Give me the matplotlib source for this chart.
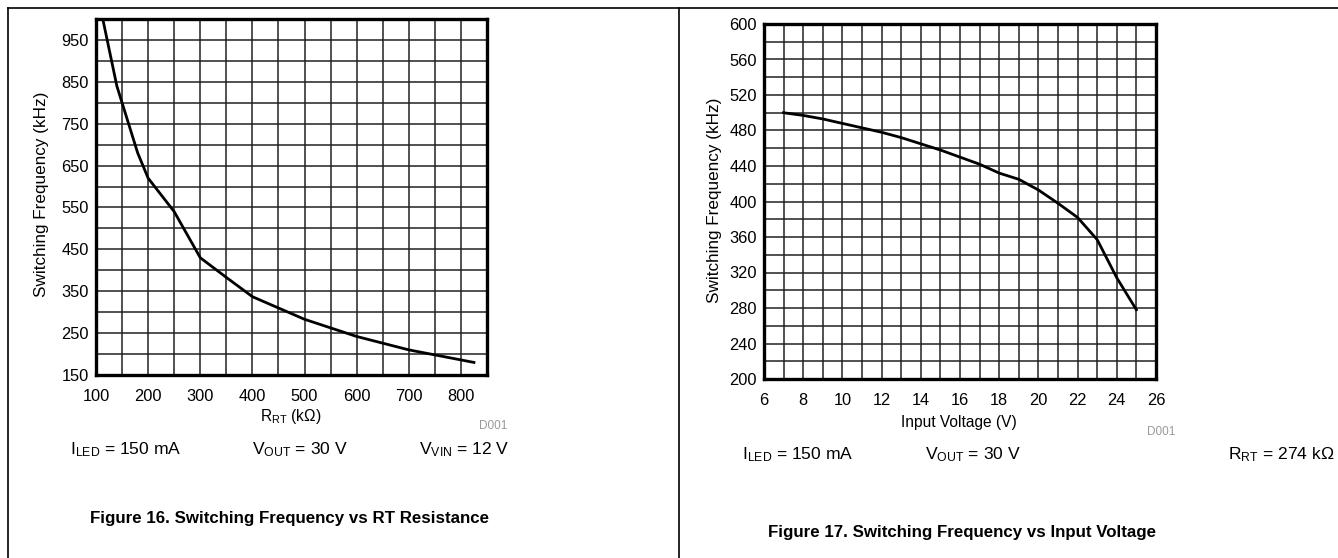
import numpy as np
import matplotlib
matplotlib.use('Agg')
import matplotlib.pyplot as plt
from matplotlib.lines import Line2D

plt.rcParams['font.family'] = ['Liberation Sans', 'DejaVu Sans']
plt.rcParams['mathtext.fontset'] = 'custom'
plt.rcParams['mathtext.rm'] = 'Liberation Sans'
plt.rcParams['mathtext.it'] = 'Liberation Sans'

# Figure 16: frequency vs RT resistance
rrt_kohm = [113, 140, 180, 200, 250, 300, 350, 400, 500, 600, 700, 750, 825]
freq_rt = [1000, 840, 680, 620, 540, 430, 383, 337, 283, 242, 210, 198, 180]
rt_ticks = [100, 200, 300, 400, 500, 600, 700, 800]
rt_yticks = [150, 250, 350, 450, 550, 650, 750, 850, 950]

# Figure 17: frequency vs input voltage
vin = [7, 8, 9, 10, 11, 12, 13, 14, 15, 16, 17, 18, 19, 20, 21, 22, 23, 24, 25]
freq_vin = [500, 497, 493, 488, 483, 478, 472, 465, 458, 450, 442, 432, 425,
            413, 398, 382, 357, 314, 278]
vin_ticks = [6, 8, 10, 12, 14, 16, 18, 20, 22, 24, 26]
vin_yticks = [200, 240, 280, 320, 360, 400, 440, 480, 520, 560, 600]

W, H = 1338, 558
fig = plt.figure(figsize=(W / 100, H / 100), dpi=100)


def px_axes(l, t, r, b):
    return fig.add_axes([l / W, 1 - b / H, (r - l) / W, (b - t) / H])


def fx(x):
    return x / W


def fy(y):
    return 1 - y / H


def style(ax, xminor, yminor):
    ax.set_xticks(xminor, minor=True)
    ax.set_yticks(yminor, minor=True)
    ax.grid(True, which='both', color='#222222', lw=1.1)
    ax.tick_params(which='both', length=0, labelsize=11.8, colors='black')
    ax.tick_params(axis='x', pad=10)
    ax.tick_params(axis='y', pad=5)
    for s in ax.spines.values():
        s.set_linewidth(2.4)
        s.set_color('black')
    ax.set_axisbelow(True)


# left panel
ax1 = px_axes(96, 19, 487, 375)
ax1.plot(rrt_kohm, freq_rt, color='black', lw=2.0)
ax1.set_xlim(100, 850)
ax1.set_ylim(150, 1000)
ax1.set_xticks(rt_ticks)
ax1.set_yticks(rt_yticks)
style(ax1, np.arange(100, 851, 50), np.arange(150, 1001, 50))

# right panel
ax2 = px_axes(764, 24, 1156, 379)
ax2.plot(vin, freq_vin, color='black', lw=2.0)
ax2.set_xlim(6, 26)
ax2.set_ylim(200, 600)
ax2.set_xticks(vin_ticks)
ax2.set_yticks(vin_yticks)
style(ax2, np.arange(6, 27, 1), np.arange(200, 601, 20))

# axis titles
fig.text(fx(291), fy(417), r'R$_{\mathrm{RT}}$ (k$\Omega$)', fontsize=11.2, ha='center', va='center')
fig.text(fx(959), fy(423), 'Input Voltage (V)', fontsize=11.2, ha='center', va='center')
fig.text(fx(42), fy(194), 'Switching Frequency (kHz)', fontsize=12.3, rotation=90,
         ha='center', va='center')
fig.text(fx(714), fy(200), 'Switching Frequency (kHz)', fontsize=12.3, rotation=90,
         ha='center', va='center')

# D001 marks
fig.text(fx(507), fy(426), 'D001', fontsize=8.5, color='#999999', ha='right', va='center')
fig.text(fx(1175), fy(432), 'D001', fontsize=8.5, color='#999999', ha='right', va='center')

# conditions
cond = 12.6
fig.text(fx(70), fy(450), r'I$_{\mathrm{LED}}$ = 150 mA', fontsize=cond, va='center')
fig.text(fx(252), fy(450), r'V$_{\mathrm{OUT}}$ = 30 V', fontsize=cond, va='center')
fig.text(fx(510), fy(450), r'V$_{\mathrm{VIN}}$ = 12 V', fontsize=cond, va='center', ha='right')
fig.text(fx(742), fy(455), r'I$_{\mathrm{LED}}$ = 150 mA', fontsize=cond, va='center')
fig.text(fx(925), fy(455), r'V$_{\mathrm{OUT}}$ = 30 V', fontsize=cond, va='center')
fig.text(fx(1335), fy(455), r'R$_{\mathrm{RT}}$ = 274 k$\Omega$', fontsize=cond, va='center', ha='right')

# captions
fig.text(fx(290), fy(519), 'Figure 16. Switching Frequency vs RT Resistance',
         fontsize=12.2, fontweight='bold', ha='center', va='center')
fig.text(fx(962), fy(533), 'Figure 17. Switching Frequency vs Input Voltage',
         fontsize=12.2, fontweight='bold', ha='center', va='center')

# page frame lines
fig.add_artist(Line2D([fx(8), 1], [fy(8), fy(8)], color='black', lw=1.2))
fig.add_artist(Line2D([fx(8), fx(8)], [fy(8), 0], color='black', lw=1.2))
fig.add_artist(Line2D([fx(679), fx(679)], [fy(8), 0], color='black', lw=1.2))

fig.savefig('out.png', dpi=100)
